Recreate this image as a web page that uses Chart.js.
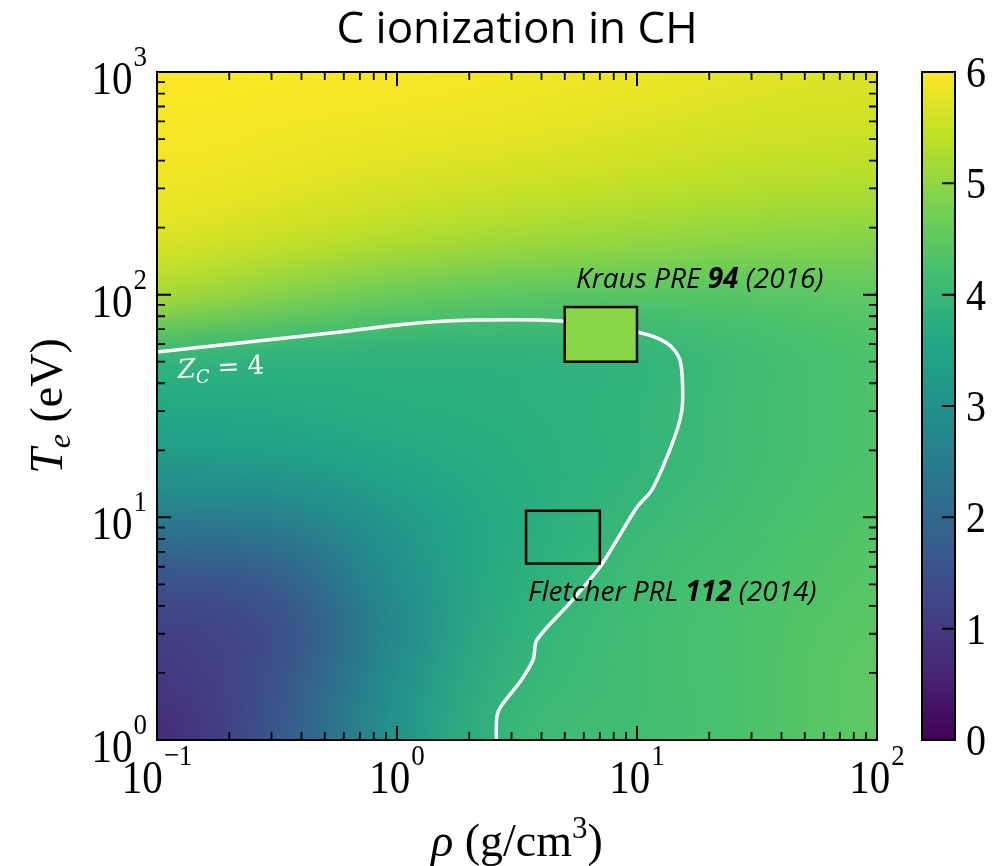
<!DOCTYPE html>
<html>
<head>
<meta charset="utf-8">
<title>C ionization in CH</title>
<script src="https://cdn.jsdelivr.net/npm/chart.js@4.4.1/dist/chart.umd.min.js"></script>
<style>
  html, body { margin: 0; padding: 0; background: #fff; }
</style>
</head>
<body>
<canvas id="ionChart" width="1005" height="866"></canvas>
<script>
const titleText = 'C ionization in CH';

// map nodes, half-decade in density, quarter-decade in temperature
const rhoNodes = [0.1, 0.3162, 1, 3.162, 10, 31.62, 100];
const teNodes = [1, 1.778, 3.162, 5.623, 10, 17.78, 31.62, 56.23, 100, 177.8, 316.2, 562.3, 1000];

// mean carbon charge Z_C, one row per teNodes entry (low Te first)
const zRow1 = [0.7, 1.6, 3.1, 4.05, 4.15, 4.3, 4.5];
const zRow2 = [0.9, 1.5, 3.0, 3.95, 4.15, 4.3, 4.5];
const zRow3 = [1.1, 1.4, 2.8, 3.85, 4.15, 4.3, 4.45];
const zRow4 = [1.6, 1.8, 3.0, 3.75, 4.1, 4.25, 4.4];
const zRow5 = [2.5, 2.6, 3.2, 3.7, 4.0, 4.2, 4.35];
const zRow6 = [3.2, 3.3, 3.55, 3.75, 3.9, 4.15, 4.3];
const zRow7 = [3.6, 3.65, 3.75, 3.8, 3.9, 4.15, 4.3];
const zRow8 = [4.05, 3.9, 3.85, 3.85, 3.9, 4.15, 4.3];
const zRow9 = [5.2, 4.9, 4.6, 4.45, 4.4, 4.4, 4.5];
const zRow10 = [5.7, 5.5, 5.3, 5.15, 5.05, 4.95, 4.9];
const zRow11 = [5.88, 5.78, 5.65, 5.55, 5.45, 5.35, 5.3];
const zRow12 = [5.95, 5.9, 5.85, 5.8, 5.7, 5.6, 5.55];
const zRow13 = [6.0, 5.98, 5.95, 5.9, 5.85, 5.75, 5.7];
const zRows = [zRow1, zRow2, zRow3, zRow4, zRow5, zRow6, zRow7, zRow8, zRow9, zRow10, zRow11, zRow12, zRow13];

// Z_C = 4 contour
const contourRho = [0.1, 0.578, 1.10, 2.07, 4.82, 10.0, 13.3, 15.1, 15.5, 15.1, 13.7, 11.55, 10.0, 8.25, 7.01, 5.26, 3.83, 3.69, 3.25, 2.64, 2.59];
const contourTe = [55.3, 68.0, 73.9, 76.9, 76.2, 68.0, 60.7, 50.9, 33.6, 27.4, 20.1, 13.3, 11.1, 7.92, 5.98, 4.13, 2.82, 2.29, 1.82, 1.34, 1.0];

// experiment windows
const krausRho = [5.0, 10.0];
const krausTe = [50, 88];
const fletcherRho = [3.45, 7.0];
const fletcherTe = [6.2, 10.7];

// axes
const xTicks = [0.1, 1, 10, 100];
const xTickExp = ['\u22121', '0', '1', '2'];
const yTicks = [1, 10, 100, 1000];
const yTickExp = ['0', '1', '2', '3'];
const zTicks = [0, 1, 2, 3, 4, 5, 6];
const minorMantissa = [2, 3, 4, 5, 6, 7, 8, 9];

const SERIF = '"Liberation Serif", "Times New Roman", serif';
const SANS = '"Open Sans", "Noto Sans", sans-serif';
const STRETCH = 1.12;

const viridisStops = [
  [68, 1, 84], [72, 36, 117], [65, 68, 135], [53, 95, 141], [42, 120, 142],
  [33, 145, 140], [34, 168, 132], [68, 191, 112], [122, 209, 81], [189, 223, 38], [253, 231, 37]
];
function viridis(t) {
  t = Math.min(1, Math.max(0, t)) * 10;
  const i = Math.min(9, Math.floor(t));
  const f = t - i;
  const a = viridisStops[i], b = viridisStops[i + 1];
  return [0, 1, 2].map(k => Math.round(a[k] + (b[k] - a[k]) * f));
}

function minorTicks(majors) {
  const out = [];
  for (let i = 0; i < majors.length - 1; i++) minorMantissa.forEach(m => out.push(majors[i] * m));
  return out;
}

function tallText(ctx, text, x, y) {
  ctx.save();
  ctx.translate(x, y);
  ctx.scale(1, STRETCH);
  ctx.fillText(text, 0, 0);
  ctx.restore();
}

// "10" with a raised exponent
function powerLabel(ctx, exp, x, baseline, align) {
  ctx.font = '41px ' + SERIF;
  const wb = ctx.measureText('10').width;
  ctx.font = '27px ' + SERIF;
  const we = ctx.measureText(exp).width;
  const total = wb + we + 1;
  const left = align === 'center' ? x - total / 2 : x - total;
  ctx.textAlign = 'left';
  ctx.textBaseline = 'alphabetic';
  ctx.font = '41px ' + SERIF;
  tallText(ctx, '10', left, baseline);
  ctx.font = '27px ' + SERIF;
  tallText(ctx, exp, left + wb + 1, baseline - 28);
}

// draws a run of [text, font, dy] pieces starting at x
function drawRuns(ctx, runs, x, y) {
  let cx = x;
  runs.forEach(([t, f, dy]) => {
    ctx.font = f;
    ctx.fillText(t, cx, y + (dy || 0));
    cx += ctx.measureText(t).width;
  });
  return cx - x;
}
function runsWidth(ctx, runs) {
  let w = 0;
  runs.forEach(([t, f]) => { ctx.font = f; w += ctx.measureText(t).width; });
  return w;
}

const heatmap = {
  id: 'heatmap',
  beforeDatasetsDraw(chart) {
    const { ctx, chartArea: a, scales: { x, y } } = chart;
    const nx = rhoNodes.length, ny = teNodes.length;
    const off = document.createElement('canvas');
    off.width = nx;
    off.height = ny;
    const octx = off.getContext('2d');
    const img = octx.createImageData(nx, ny);
    for (let j = 0; j < ny; j++) {
      const row = zRows[ny - 1 - j];
      for (let i = 0; i < nx; i++) {
        const c = viridis(row[i] / 6);
        const k = 4 * (j * nx + i);
        img.data[k] = c[0]; img.data[k + 1] = c[1]; img.data[k + 2] = c[2]; img.data[k + 3] = 255;
      }
    }
    octx.putImageData(img, 0, 0);
    const x0 = x.getPixelForValue(rhoNodes[0]);
    const x1 = x.getPixelForValue(rhoNodes[nx - 1]);
    const y0 = y.getPixelForValue(teNodes[ny - 1]);
    const y1 = y.getPixelForValue(teNodes[0]);
    const cw = (x1 - x0) / (nx - 1), ch = (y1 - y0) / (ny - 1);
    ctx.save();
    ctx.beginPath();
    ctx.rect(a.left, a.top, a.right - a.left, a.bottom - a.top);
    ctx.clip();
    ctx.imageSmoothingEnabled = true;
    ctx.imageSmoothingQuality = 'high';
    ctx.drawImage(off, x0 - cw / 2, y0 - ch / 2, cw * nx, ch * ny);
    ctx.restore();
  }
};

const decorations = {
  id: 'decorations',
  afterDatasetsDraw(chart) {
    const { ctx, chartArea: a, scales: { x, y, cbar } } = chart;
    ctx.save();

    // experiment boxes
    const box = (rr, tt, fill) => {
      const l = x.getPixelForValue(rr[0]), r = x.getPixelForValue(rr[1]);
      const t = y.getPixelForValue(tt[1]), b = y.getPixelForValue(tt[0]);
      if (fill) { ctx.fillStyle = fill; ctx.fillRect(l, t, r - l, b - t); }
      ctx.lineWidth = 2.5;
      ctx.strokeStyle = '#000';
      ctx.strokeRect(l, t, r - l, b - t);
    };
    box(krausRho, krausTe, '#8bd646');
    box(fletcherRho, fletcherTe, null);

    // references
    ctx.fillStyle = '#000';
    ctx.textBaseline = 'alphabetic';
    ctx.textAlign = 'left';
    const it = 'italic 28px ' + SANS, bi = 'italic bold 28px ' + SANS;
    drawRuns(ctx, [['Kraus PRE ', it], ['94', bi], [' (2016)', it]], 576, 288);
    drawRuns(ctx, [['Fletcher PRL ', it], ['112', bi], [' (2014)', it]], 528, 601);

    // contour label
    ctx.save();
    ctx.translate(178, 378);
    ctx.rotate(-3 * Math.PI / 180);
    ctx.fillStyle = '#fff';
    const DV = '"DejaVu Serif", serif';
    drawRuns(ctx, [['Z', 'italic 26px ' + DV], ['C', 'italic 18px ' + DV, 6], [' = 4', '26px ' + DV]], 0, 0);
    ctx.restore();

    // frame
    ctx.strokeStyle = '#000';
    ctx.lineWidth = 2;
    ctx.strokeRect(a.left, a.top, a.right - a.left, a.bottom - a.top);

    // inward ticks on all four sides
    const tick = (vals, len, lw) => {
      ctx.lineWidth = lw;
      ctx.beginPath();
      vals.x.forEach(v => {
        const px = x.getPixelForValue(v);
        ctx.moveTo(px, a.bottom); ctx.lineTo(px, a.bottom - len);
        ctx.moveTo(px, a.top); ctx.lineTo(px, a.top + len);
      });
      vals.y.forEach(v => {
        const py = y.getPixelForValue(v);
        ctx.moveTo(a.left, py); ctx.lineTo(a.left + len, py);
        ctx.moveTo(a.right, py); ctx.lineTo(a.right - len, py);
      });
      ctx.stroke();
    };
    tick({ x: xTicks, y: yTicks }, 14, 2);
    tick({ x: minorTicks(xTicks), y: minorTicks(yTicks) }, 8, 1.8);

    // tick labels
    ctx.fillStyle = '#000';
    xTicks.forEach((v, i) => powerLabel(ctx, xTickExp[i], x.getPixelForValue(v), 793, 'center'));
    yTicks.forEach((v, i) => powerLabel(ctx, yTickExp[i], 147, y.getPixelForValue(v) + 22, 'right'));

    // axis titles
    ctx.textAlign = 'left';
    const xRuns = [['\u03c1', 'italic 46px ' + SERIF], [' (g/cm', '46px ' + SERIF], ['3', '31px ' + SERIF, -18], [')', '46px ' + SERIF]];
    const xw = runsWidth(ctx, xRuns);
    drawRuns(ctx, xRuns, (a.left + a.right) / 2 - xw / 2, 856);

    const yRuns = [['T', 'italic 46px ' + SERIF], ['e', 'italic 32px ' + SERIF, 8], [' (eV)', '46px ' + SERIF]];
    const yw = runsWidth(ctx, yRuns);
    ctx.save();
    ctx.translate(62, (a.top + a.bottom) / 2);
    ctx.rotate(-Math.PI / 2);
    drawRuns(ctx, yRuns, -yw / 2, 0);
    ctx.restore();

    // colour bar
    const cl = 922, cr = 955;
    const ct = cbar.getPixelForValue(6), cb = cbar.getPixelForValue(0);
    const grad = ctx.createLinearGradient(0, cb, 0, ct);
    viridisStops.forEach((c, i) => grad.addColorStop(i / 10, `rgb(${c[0]},${c[1]},${c[2]})`));
    ctx.fillStyle = grad;
    ctx.fillRect(cl, ct, cr - cl, cb - ct);
    ctx.lineWidth = 2;
    ctx.strokeRect(cl, ct, cr - cl, cb - ct);
    ctx.beginPath();
    zTicks.forEach(v => {
      const py = cbar.getPixelForValue(v);
      ctx.moveTo(cr, py); ctx.lineTo(cr - 13, py);
    });
    ctx.stroke();
    ctx.fillStyle = '#000';
    ctx.font = '40px ' + SERIF;
    ctx.textAlign = 'left';
    zTicks.forEach(v => tallText(ctx, String(v), 966, cbar.getPixelForValue(v) + 15));

    ctx.restore();
  }
};

const ctx = document.getElementById('ionChart').getContext('2d');

const ionChart = new Chart(ctx, {
  type: 'scatter',
  data: {
    datasets: [{
      label: 'Z_C = 4',
      data: contourRho.map((r, i) => ({ x: r, y: contourTe[i] })),
      showLine: true,
      borderColor: '#ffffff',
      borderWidth: 3.5,
      pointRadius: 0,
      tension: 0.3,
      fill: false
    }]
  },
  options: {
    responsive: false,
    animation: false,
    layout: { padding: { left: 157, right: 128, top: 0, bottom: 126 } },
    scales: {
      x: { type: 'logarithmic', min: 0.1, max: 100, display: false },
      y: { type: 'logarithmic', min: 1, max: 1000, display: false },
      cbar: { axis: 'y', type: 'linear', min: 0, max: 6, position: 'right', display: false }
    },
    plugins: {
      legend: { display: false },
      tooltip: { enabled: false },
      title: {
        display: true,
        text: titleText,
        color: '#000',
        font: { family: SANS, size: 44, weight: 'normal' },
        padding: { top: 4, bottom: 15.2 }
      }
    }
  },
  plugins: [heatmap, decorations]
});
</script>
</body>
</html>
